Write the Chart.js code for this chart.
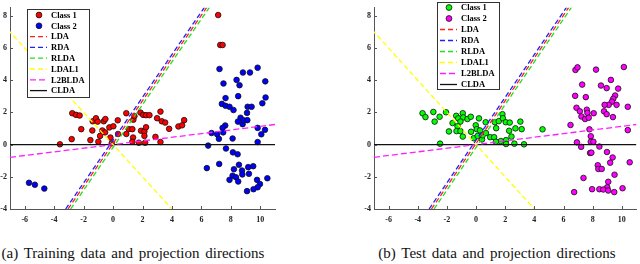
<!DOCTYPE html>
<html><head><meta charset="utf-8">
<script src="https://cdn.jsdelivr.net/npm/chart.js@4.4.1/dist/chart.umd.min.js"></script>
<style>
html,body{margin:0;padding:0;background:#fff;}
#wrap{position:relative;width:640px;height:264px;overflow:hidden;}
.cv{position:absolute;top:0;}
.cap{position:absolute;top:245px;font-family:"Liberation Serif","Times New Roman",serif;font-size:15px;color:#111;white-space:nowrap;word-spacing:2px;text-align:center;}
</style></head>
<body>
<div id="wrap">
  <canvas id="c1" class="cv" style="left:0px" width="320" height="230"></canvas>
  <canvas id="c2" class="cv" style="left:320px" width="320" height="230"></canvas>
  <div class="cap" style="left:0px;width:266px">(a) Training data and projection directions</div>
  <div class="cap" style="left:364px;width:266px">(b) Test data and projection directions</div>
</div>
<script>
// ---------- data ----------
const xTickValues = [-6,-4,-2,0,2,4,6,8,10];
const yTickValues = [-4,-2,0,2,4,6,8];
const xRange = [-7, 11];
const yRange = [-4, 8.5];

const seriesNames = ["Class 1","Class 2","LDA","RDA","RLDA","LDAL1","L2BLDA","CLDA"];

// training data
const trainC1X = [-3.61,-2.77,-2.52,-2.27,-2.81,-2.16,-1.38,-1.16,-1.04,-0.63,-0.52,-1.41,-1.54,-1.00,-0.88,-0.73,-0.54,-0.25,0.02,-0.18,-0.09,0.32,0.90,0.34,0.90,1.07,1.31,1.38,1.45,1.86,2.04,2.24,2.47,1.36,1.31,1.75,1.90,2.13,2.24,2.13,2.18,2.88,3.22,3.22,2.99,3.31,3.54,4.44,4.69,4.83,3.81,7.14,7.28,7.44];
const trainC1Y = [0.02,1.95,1.85,1.81,0.34,0.96,1.45,1.64,1.43,1.45,1.59,0.88,0.28,0.18,0.54,0.88,0.76,1.07,1.14,0.44,0.08,1.51,1.95,0.66,0.66,0.96,0.96,1.55,1.77,1.99,1.85,1.83,1.83,0.44,0.18,0.12,0.86,0.82,1.08,0.54,0.12,0.48,0.16,2.05,1.64,1.45,1.37,1.13,1.20,1.52,0.98,8.05,6.19,6.19];
const trainC2X = [7.23,8.82,9.30,9.82,7.50,8.39,8.59,10.34,7.64,8.50,10.36,7.39,7.64,7.91,8.18,10.14,9.14,9.41,9.10,8.66,8.48,8.80,8.87,9.12,7.62,7.44,7.48,6.69,7.07,7.19,8.12,9.82,10.32,10.07,9.82,6.46,7.67,8.14,8.46,6.37,7.21,8.55,8.21,9.18,9.52,8.76,8.78,9.23,8.12,8.35,7.91,8.50,9.78,9.98,10.48,9.82,9.54,9.10,-5.71,-5.31,-4.67];
const trainC2Y = [4.70,4.48,4.48,4.78,3.80,4.02,3.69,3.93,2.89,3.01,2.93,2.53,2.41,2.35,2.15,2.57,2.35,2.35,1.97,1.67,1.43,1.27,1.51,1.52,1.19,1.04,0.76,0.72,0.64,0.36,0.38,1.04,0.92,0.64,0.16,-0.06,-0.24,-0.48,-0.60,-1.46,-1.20,-1.25,-1.53,-1.40,-1.34,-1.61,-1.85,-1.81,-1.93,-2.03,-2.19,-2.29,-2.19,-2.45,-2.09,-2.65,-2.77,-2.89,-2.37,-2.49,-2.73];

// test data
const testC1X = [-3.67,-3.47,-2.93,-2.84,-2.50,-2.06,-2.47,-1.86,-1.61,-1.36,-1.22,-0.91,-0.88,-1.07,-1.27,-1.34,-1.07,-0.91,-0.59,-0.36,-0.34,-0.02,0.05,0.20,-0.16,0.11,0.41,0.45,0.66,0.68,0.97,1.24,1.29,1.38,1.56,1.81,1.84,2.04,2.31,2.27,2.70,3.04,3.13,2.43,2.06,1.70,1.36,2.06,2.63,3.29,4.56,0.27];
const testC1Y = [1.95,1.71,2.03,1.43,1.73,2.01,0.06,0.82,1.34,1.79,1.63,1.95,1.69,1.43,1.14,0.84,0.84,0.50,1.59,1.73,0.80,1.20,0.96,1.63,0.40,0.54,0.32,0.58,1.39,0.72,0.46,0.46,1.39,1.02,1.46,1.89,1.64,1.39,1.37,0.86,1.01,1.43,0.96,0.50,0.28,0.22,0.18,0.04,0.06,0.02,0.95,0.88];
const testC2X = [6.82,6.96,8.23,10.14,7.28,8.57,8.96,9.25,9.75,6.80,7.53,9.54,9.41,9.32,9.10,8.82,9.64,10.41,6.89,7.12,7.60,7.64,8.07,7.23,7.48,7.73,8.78,8.96,9.39,6.48,7.78,10.41,7.87,7.87,8.05,6.92,7.21,8.46,7.82,7.91,8.98,9.37,9.20,10.54,8.35,8.39,8.62,9.50,7.37,9.07,9.00,8.46,8.73,7.96,9.07,9.48,10.05,6.73];
const testC2Y = [4.64,4.80,4.66,4.82,3.73,3.67,3.51,4.02,3.48,3.03,2.95,3.05,2.85,2.67,2.47,2.47,2.47,2.35,2.29,2.07,2.17,1.97,1.95,1.75,1.59,1.67,2.07,1.89,1.71,1.22,0.95,0.90,0.52,0.18,0.18,0.14,-0.14,-0.12,-0.52,-0.50,-0.46,-0.80,-1.12,-1.10,-1.28,-1.51,-1.51,-1.87,-2.07,-2.31,-2.65,-2.77,-2.79,-2.77,-2.85,-2.95,-2.71,-2.95];

// projection direction lines (end points)
const ldaX = [-3.06, 6.72],   ldaY = [-4, 9];
const rdaX = [-3.22, 6.56],   rdaY = [-4, 9];
const rldaX = [-2.88, 6.90],  rldaY = [-4, 9];
const ldal1X = [-7.5, 4.5],   ldal1Y = [7.5, -4.5];
const l2bldaX = [-7, 11],     l2bldaY = [-0.79, 1.25];
const cldaX = [-7, 11],       cldaY = [0, 0];

// ---------- helpers ----------
const pts = (xs, ys) => xs.map((x, i) => ({x: x, y: ys[i]}));
const FONT = '"Liberation Serif","Times New Roman",serif';

function lineDs(label, xs, ys, color, dash) {
  return {label, data: pts(xs, ys), showLine: true, borderColor: color, backgroundColor: color,
    borderWidth: 1.3, borderDash: dash, pointRadius: 0, pointHoverRadius: 0, order: 0, _kind: 'line'};
}
function scatDs(label, xs, ys, color) {
  return {label, data: pts(xs, ys), showLine: false, backgroundColor: color, borderColor: '#111',
    pointRadius: 2.8, pointBorderWidth: 0.8, pointHoverRadius: 2.8, order: 1, _kind: 'point'};
}

const inwardTicks = {
  id: 'inwardTicks',
  afterDraw(chart) {
    const {ctx, chartArea: a, scales: {x, y}} = chart;
    ctx.save();
    ctx.strokeStyle = '#555'; ctx.lineWidth = 1;
    ctx.beginPath();
    xTickValues.forEach(v => { const p = Math.round(x.getPixelForValue(v)) + 0.5; ctx.moveTo(p, a.bottom); ctx.lineTo(p, a.bottom - 3); });
    yTickValues.forEach(v => { const p = Math.round(y.getPixelForValue(v)) + 0.5; ctx.moveTo(a.left, p); ctx.lineTo(a.left + 3, p); });
    ctx.stroke();
    ctx.restore();
  }
};

const boxLegend = {
  id: 'boxLegend',
  afterDatasetsDraw(chart, args, opts) {
    const ctx = chart.ctx;
    const {left, top, width, height, rowStart, rowStep} = opts;
    ctx.save();
    ctx.fillStyle = '#fff';
    ctx.fillRect(left, top, width, height);
    ctx.strokeStyle = '#333'; ctx.lineWidth = 1;
    ctx.strokeRect(left + 0.5, top + 0.5, width, height);
    chart.data.datasets.forEach((ds, i) => {
      const cy = top + rowStart + i * rowStep;
      if (ds._kind === 'point') {
        ctx.beginPath();
        ctx.arc(left + 12, cy, 2.9, 0, Math.PI * 2);
        ctx.fillStyle = ds.backgroundColor; ctx.fill();
        ctx.lineWidth = 0.8; ctx.strokeStyle = '#111'; ctx.stroke();
      } else {
        ctx.beginPath();
        ctx.setLineDash(ds.borderDash || []);
        ctx.strokeStyle = ds.borderColor; ctx.lineWidth = 1.3;
        ctx.moveTo(left + 3, cy); ctx.lineTo(left + 20, cy);
        ctx.stroke();
        ctx.setLineDash([]);
      }
      ctx.fillStyle = '#000';
      ctx.font = 'bold 8.5px ' + FONT;
      ctx.textBaseline = 'middle';
      ctx.fillText(ds.label, left + 24, cy + 0.5);
    });
    ctx.restore();
  }
};

function makeChart(id, c1x, c1y, c2x, c2y, col1, col2, legendOpts, yAxisWidth, rightPad) {
  const datasets = [
    scatDs(seriesNames[0], c1x, c1y, col1),
    scatDs(seriesNames[1], c2x, c2y, col2),
    lineDs(seriesNames[2], ldaX, ldaY, '#ff2020', [5, 3]),
    lineDs(seriesNames[3], rdaX, rdaY, '#2020ff', [5, 3]),
    lineDs(seriesNames[4], rldaX, rldaY, '#20e020', [5, 3]),
    lineDs(seriesNames[5], ldal1X, ldal1Y, '#ffff00', [5, 3]),
    lineDs(seriesNames[6], l2bldaX, l2bldaY, '#ff20ff', [6, 3]),
    lineDs(seriesNames[7], cldaX, cldaY, '#111111', [])
  ];
  const tickFont = {family: FONT, size: 8, weight: 'bold'};
  return new Chart(document.getElementById(id), {
    type: 'scatter',
    data: {datasets},
    options: {
      responsive: false, animation: false, events: [],
      layout: {padding: {top: 1, right: rightPad, left: 0, bottom: 0}},
      plugins: {legend: {display: false}, tooltip: {enabled: false}, boxLegend: legendOpts},
      scales: {
        x: {type: 'linear', min: xRange[0], max: xRange[1],
          afterBuildTicks: s => { s.ticks = xTickValues.map(v => ({value: v})); },
          afterFit: s => { s.height = 21; },
          ticks: {font: tickFont, color: '#222', padding: 6, maxRotation: 0, autoSkip: false},
          grid: {display: true, drawOnChartArea: false, drawTicks: false},
          border: {display: true, color: '#555', width: 1}},
        y: {type: 'linear', min: yRange[0], max: yRange[1],
          afterBuildTicks: s => { s.ticks = yTickValues.map(v => ({value: v})); },
          afterFit: s => { s.width = yAxisWidth; },
          ticks: {font: tickFont, color: '#222', padding: 3, autoSkip: false},
          grid: {display: true, drawOnChartArea: false, drawTicks: false},
          border: {display: true, color: '#555', width: 1}}
      }
    },
    plugins: [inwardTicks, boxLegend]
  });
}

makeChart('c1', trainC1X, trainC1Y, trainC2X, trainC2Y, '#ff0000', '#0000ff',
  {left: 27, top: 9, width: 62, height: 88, rowStart: 6, rowStep: 10.8}, 10, 45);
makeChart('c2', testC1X, testC1Y, testC2X, testC2Y, '#00ff00', '#ff00ff',
  {left: 117, top: 2, width: 62, height: 87, rowStart: 5.5, rowStep: 11}, 54, 1);
</script>
</body></html>
